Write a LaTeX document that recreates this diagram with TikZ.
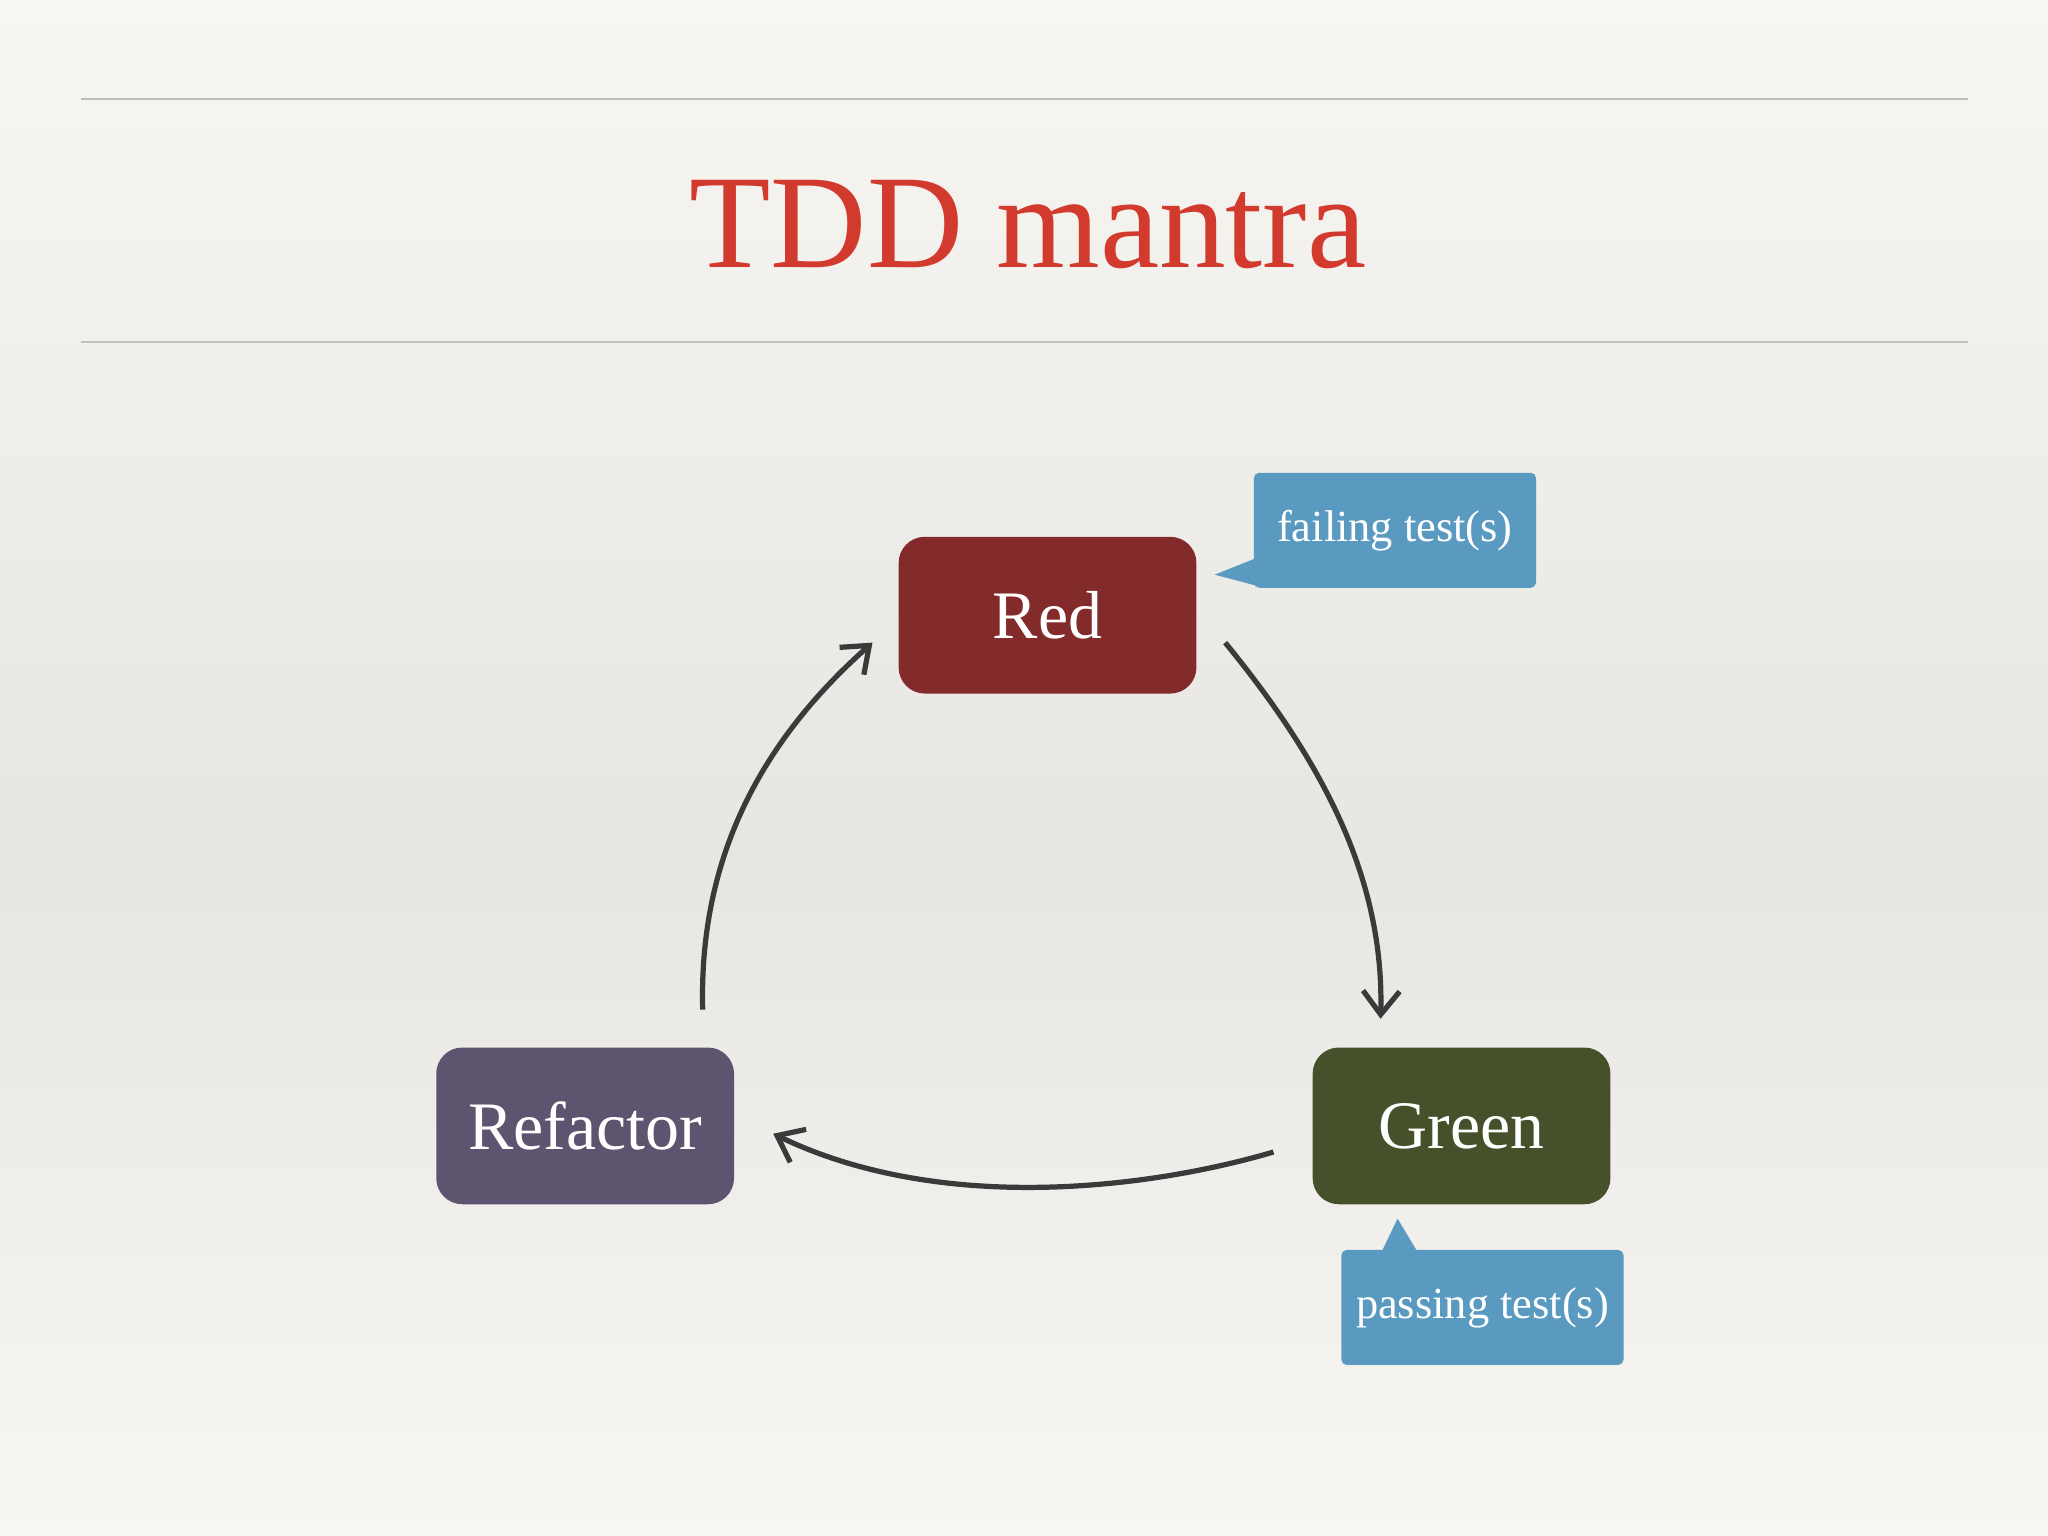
\documentclass[tikz,border=0pt]{standalone}
\usepackage{fontspec}
\setmainfont{Liberation Serif}
\usetikzlibrary{arrows.meta,shapes.callouts}
\definecolor{bgc}{HTML}{F8F6F1}
\definecolor{bgg}{HTML}{E8E6E3}
\definecolor{titlered}{HTML}{D13A2C}
\definecolor{redbox}{HTML}{832B2A}
\definecolor{greenbox}{HTML}{46512C}
\definecolor{refbox}{HTML}{5E5470}
\definecolor{callc}{HTML}{5A9AC0}
\definecolor{arrc}{HTML}{3A3A3A}
\tikzset{
  state/.style={rounded corners=10pt, text=white, minimum width=114pt, minimum height=60pt, font=\fontsize{26}{30}\selectfont, inner sep=0pt},
  callbox/.style={fill=callc, rounded corners=2pt, minimum width=108pt, minimum height=44pt, text=white, font=\fontsize{17}{20}\selectfont, inner sep=0pt},
  cyc/.style={draw=arrc, line width=2pt, -{Straight Barb[length=9pt,width=14pt,line width=2pt]}},
  rule/.style={draw=black!25, line width=0.6pt}
}
\begin{document}
\begin{tikzpicture}[x=0.5pt,y=-0.5pt]
\useasboundingbox (0,0) rectangle (1568,1176);
\shade[top color=bgc, bottom color=bgg] (0,0) rectangle (1568,650);
\shade[top color=bgg, bottom color=bgc] (0,650) rectangle (1568,1176);
\draw[rule] (62,76) -- (1507,76);
\draw[rule] (62,262) -- (1507,262);
\node[text=titlered, font=\fontsize{51}{56}\selectfont] (title) at (787,172) {TDD mantra};
\node[state, fill=redbox] (red) at (802,471) {Red};
\node[state, fill=greenbox] (green) at (1119,862) {Green};
\node[state, fill=refbox] (ref) at (448,862) {Refactor};
\node[callbox] (fail) at (1068,406) {failing test(s)};
\fill[callc] (960,428) -- (930,440) -- (968,450) -- cycle;
\node[callbox] (pass) at (1135,1001) {passing test(s)};
\fill[callc] (1058,958) -- (1070,933) -- (1085,958) -- cycle;
\coordinate (a1) at (938,492); \coordinate (a2) at (1057,780);
\coordinate (b1) at (975,882); \coordinate (b2) at (592,868);
\coordinate (c1) at (538,773); \coordinate (c2) at (668,492);
\draw[cyc] (a1) .. controls (1010,580) and (1060,670) .. (a2);
\draw[cyc] (b1) .. controls (880,910) and (720,930) .. (b2);
\draw[cyc] (c1) .. controls (535,660) and (580,570) .. (c2);
\end{tikzpicture}
\end{document}
